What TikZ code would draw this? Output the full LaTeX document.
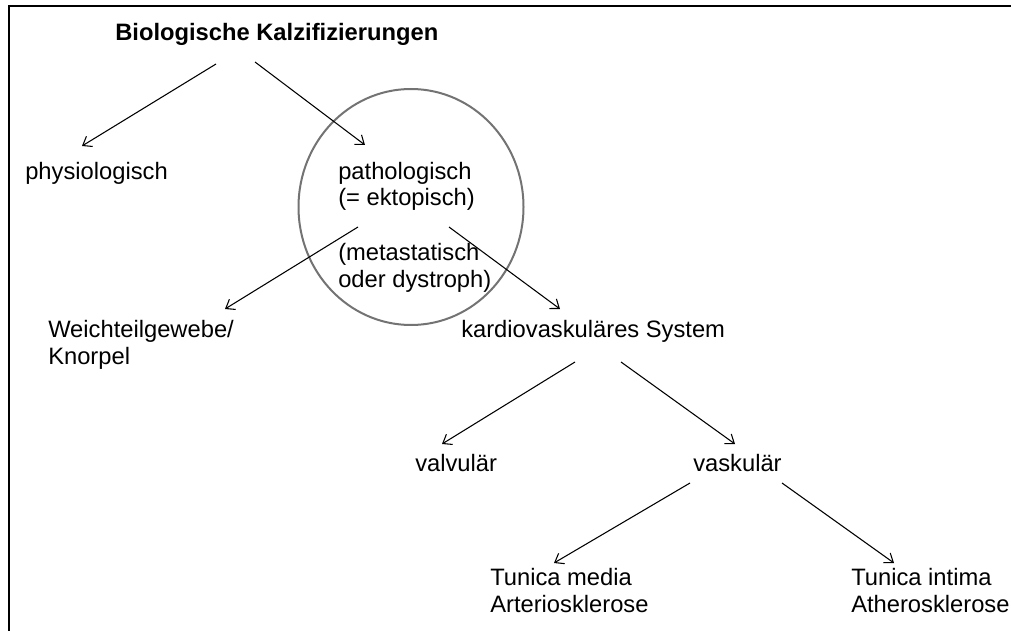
\documentclass[tikz,border=0pt]{standalone}
\usepackage{fontspec}
\setmainfont{Liberation Sans}
\usetikzlibrary{arrows.meta}

\tikzset{
    lbl/.style={anchor=base west, inner sep=0pt, align=left,
        font=\fontsize{17.8pt}{20.25pt}\selectfont},
    arr/.style={-{Straight Barb[length=6pt,width=9pt]}, line width=0.8pt},
    ring/.style={draw=black!55, line width=1.5pt}
}

\begin{document}
\begin{tikzpicture}[x=0.75pt, y=-0.75pt]
        \useasboundingbox (0,0) rectangle (1011,631);
        \draw[line width=1.5pt] (9,631) -- (9,6) -- (1011,6);

        \node[lbl, font=\fontsize{17.8pt}{20.25pt}\selectfont\bfseries] (title) at (115,41) {Biologische Kalzifizierungen};
        \node[lbl] (physio) at (25,180) {physiologisch};
        \node[lbl] (patho) at (338,206) {pathologisch\\(= ektopisch)};
        \node[lbl] (meta) at (338,287) {(metastatisch\\oder dystroph)};
        \draw[ring] (411,207) ellipse [x radius=112.5, y radius=118];

        \node[lbl] (weich) at (48,364) {Weichteilgewebe/\\Knorpel};
        \node[lbl] (kardio) at (461,337) {kardiovaskuläres System};
        \node[lbl] (valv) at (415,471) {valvulär};
        \node[lbl] (vask) at (693,471) {vaskulär};
        \node[lbl] (media) at (490,612) {Tunica media\\Arteriosklerose};
        \node[lbl] (intima) at (851,612) {Tunica intima\\Atherosklerose};

        % Pfeile
        \draw[arr] ([shift={(101,23)}]title.base west) -- ([shift={(57,-34)}]physio.base west);
        \draw[arr] ([shift={(140,21)}]title.base west) -- ([shift={(27,-61)}]patho.base west);
        \draw[arr] ([shift={(20,-60)}]meta.base west) -- ([shift={(177,-55)}]weich.base west);
        \draw[arr] ([shift={(111,-60)}]meta.base west) -- ([shift={(99,-28)}]kardio.base west);
        \draw[arr] ([shift={(114,25)}]kardio.base west) -- ([shift={(27,-27)}]valv.base west);
        \draw[arr] ([shift={(160,25)}]kardio.base west) -- ([shift={(42,-27)}]vask.base west);
        \draw[arr] ([shift={(-3,12)}]vask.base west) -- ([shift={(64,-49)}]media.base west);
        \draw[arr] ([shift={(89,12)}]vask.base west) -- ([shift={(43,-49)}]intima.base west);
    \end{tikzpicture}
\end{document}
